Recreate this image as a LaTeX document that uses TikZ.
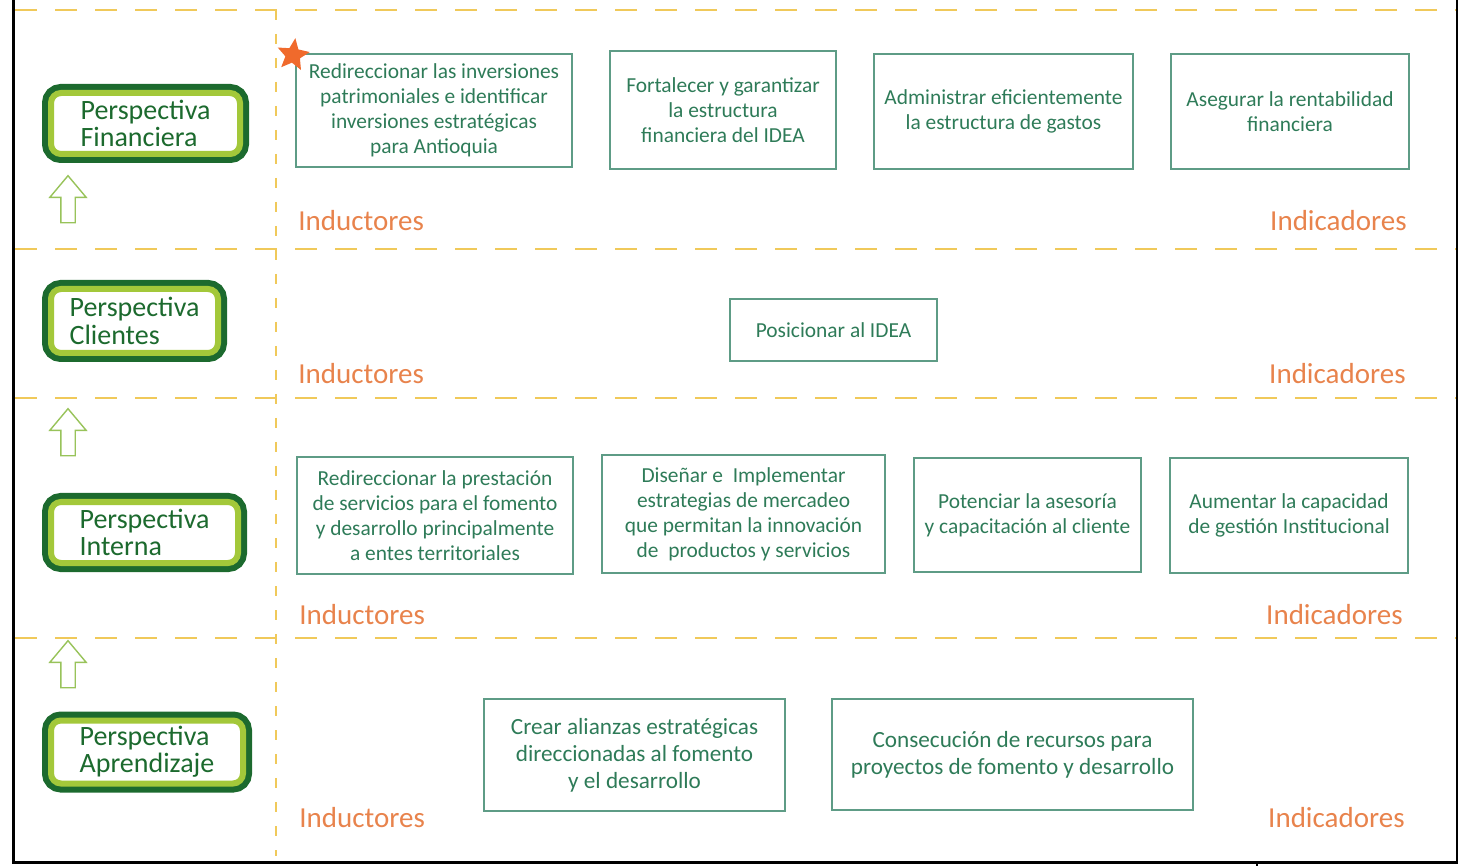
\documentclass[tikz,border=0pt]{standalone}
\usepackage{fontspec}
\setmainfont{Carlito}
\usetikzlibrary{shapes.geometric,shapes.arrows}

\definecolor{verdetexto}{HTML}{2E7B58}
\definecolor{verdecaja}{HTML}{5E9C86}
\definecolor{verdeosc}{HTML}{1C6A2E}
\definecolor{lima}{HTML}{A3C83A}
\definecolor{naranja}{HTML}{E8834C}
\definecolor{amarillo}{HTML}{F0C95A}
\definecolor{flecha}{HTML}{98C35A}
\definecolor{estrellac}{HTML}{F06A2C}

\begin{document}
\begin{tikzpicture}[x=0.5pt, y=-0.5pt,
  caja/.style={draw=verdecaja, line width=1pt, text=verdetexto, align=center,
    inner sep=0pt, font=\fontsize{10.7}{12.5}\selectfont},
  cajagrande/.style={caja, font=\fontsize{11.6}{13.5}\selectfont},
  panel/.style={draw=lima, line width=3pt, fill=white, rounded corners=5pt,
    preaction={draw=verdeosc, line width=9pt, rounded corners=5pt},
    text=verdeosc, align=left, inner sep=0pt, font=\fontsize{14}{13.6}\selectfont},
  subir/.style={single arrow, shape border rotate=90, draw=flecha, line width=0.7pt,
    fill=white, minimum height=23.5pt, minimum width=17.5pt, inner sep=3.25pt,
    single arrow head extend=5.5pt, single arrow tip angle=80},
  etiqueta/.style={text=naranja, inner sep=0pt, font=\fontsize{14.5}{16}\selectfont},
  guia/.style={draw=amarillo, line width=1pt, dash pattern=on 11pt off 9pt},
  guiav/.style={draw=amarillo, line width=1pt, dash pattern=on 5pt off 7pt}]
\useasboundingbox (0,0) rectangle (1458,866);

% lineas guia
\foreach \y in {10,249,398,638}
  \draw[guia] (15,\y) -- (1458,\y);
\draw[guiav] (276,10) -- (276,856);

% marco
\draw[line width=1.5pt] (13,0) -- (13,862) -- (1457,862) -- (1457,0);
\draw[line width=1pt] (1257,862) -- (1257,866);

% perspectivas
\node[panel, minimum width=94.5pt, minimum height=30.5pt] (finan) at (145.5,123.5) {Perspectiva\\Financiera};
\node[panel, minimum width=83.5pt, minimum height=32pt] (clien) at (134.5,321) {Perspectiva\\Clientes};
\node[panel, minimum width=93.5pt, minimum height=30.5pt] (inter) at (144.5,532.5) {Perspectiva\\Interna};
\node[panel, minimum width=96pt, minimum height=31.5pt] (apren) at (147,752) {Perspectiva\\Aprendizaje};

\node[subir] (f1) at (68,203.5) {};
\node[subir] (f2) at (68,436.5) {};
\node[subir] (f3) at (68,668.5) {};

% financiera
\node[caja, minimum width=138pt, minimum height=56.5pt] (b1) at (434,110.5)
  {Redireccionar las inversiones\\patrimoniales e identificar\\inversiones estratégicas\\para Antioquia};
\node[star, star points=5, star point ratio=2.2, fill=estrellac, inner sep=0pt,
  minimum size=17pt, rotate=-8] (estrella) at (293,55) {};
\node[caja, minimum width=113pt, minimum height=59pt] (b2) at (723,110)
  {Fortalecer y garantizar\\la estructura\\financiera del IDEA};
\node[caja, minimum width=129.5pt, minimum height=57.5pt] (b3) at (1003.5,111.5)
  {Administrar eficientemente\\la estructura de gastos};
\node[caja, minimum width=119pt, minimum height=57.5pt] (b4) at (1290,111.5)
  {Asegurar la rentabilidad\\financiera};
\node[etiqueta, anchor=west] (ind1) at (298,221) {Inductores};
\node[etiqueta, anchor=east] (ica1) at (1407,221) {Indicadores};

% clientes
\node[caja, minimum width=103.5pt, minimum height=31pt] (c1) at (833.5,330) {Posicionar al IDEA};
\node[etiqueta, anchor=west] (ind2) at (298,374) {Inductores};
\node[etiqueta, anchor=east] (ica2) at (1406,374) {Indicadores};

% interna
\node[caja, minimum width=138pt, minimum height=58.5pt] (i1) at (435,515.5)
  {Redireccionar la prestación\\de servicios para el fomento\\y desarrollo principalmente\\a entes territoriales};
\node[caja, minimum width=141.5pt, minimum height=59pt] (i2) at (743.5,514)
  {Diseñar e~~Implementar\\estrategias de mercadeo\\que permitan la innovación\\de~~productos y servicios};
\node[caja, minimum width=113.5pt, minimum height=57pt] (i3) at (1027.5,515)
  {Potenciar la asesoría\\y capacitación al cliente};
\node[caja, minimum width=119pt, minimum height=57.5pt] (i4) at (1289,515.5)
  {Aumentar la capacidad\\de gestión Institucional};
\node[etiqueta, anchor=west] (ind3) at (299,615) {Inductores};
\node[etiqueta, anchor=east] (ica3) at (1403,615) {Indicadores};

% aprendizaje
\node[cajagrande, minimum width=150.5pt, minimum height=56pt] (a1) at (634.5,755)
  {Crear alianzas estratégicas\\direccionadas al fomento\\y el desarrollo};
\node[cajagrande, minimum width=180.5pt, minimum height=55.5pt] (a2) at (1012.5,754.5)
  {Consecución de recursos para\\proyectos de fomento y desarrollo};
\node[etiqueta, anchor=west] (ind4) at (299,818) {Inductores};
\node[etiqueta, anchor=east] (ica4) at (1405,818) {Indicadores};
\end{tikzpicture}
\end{document}
